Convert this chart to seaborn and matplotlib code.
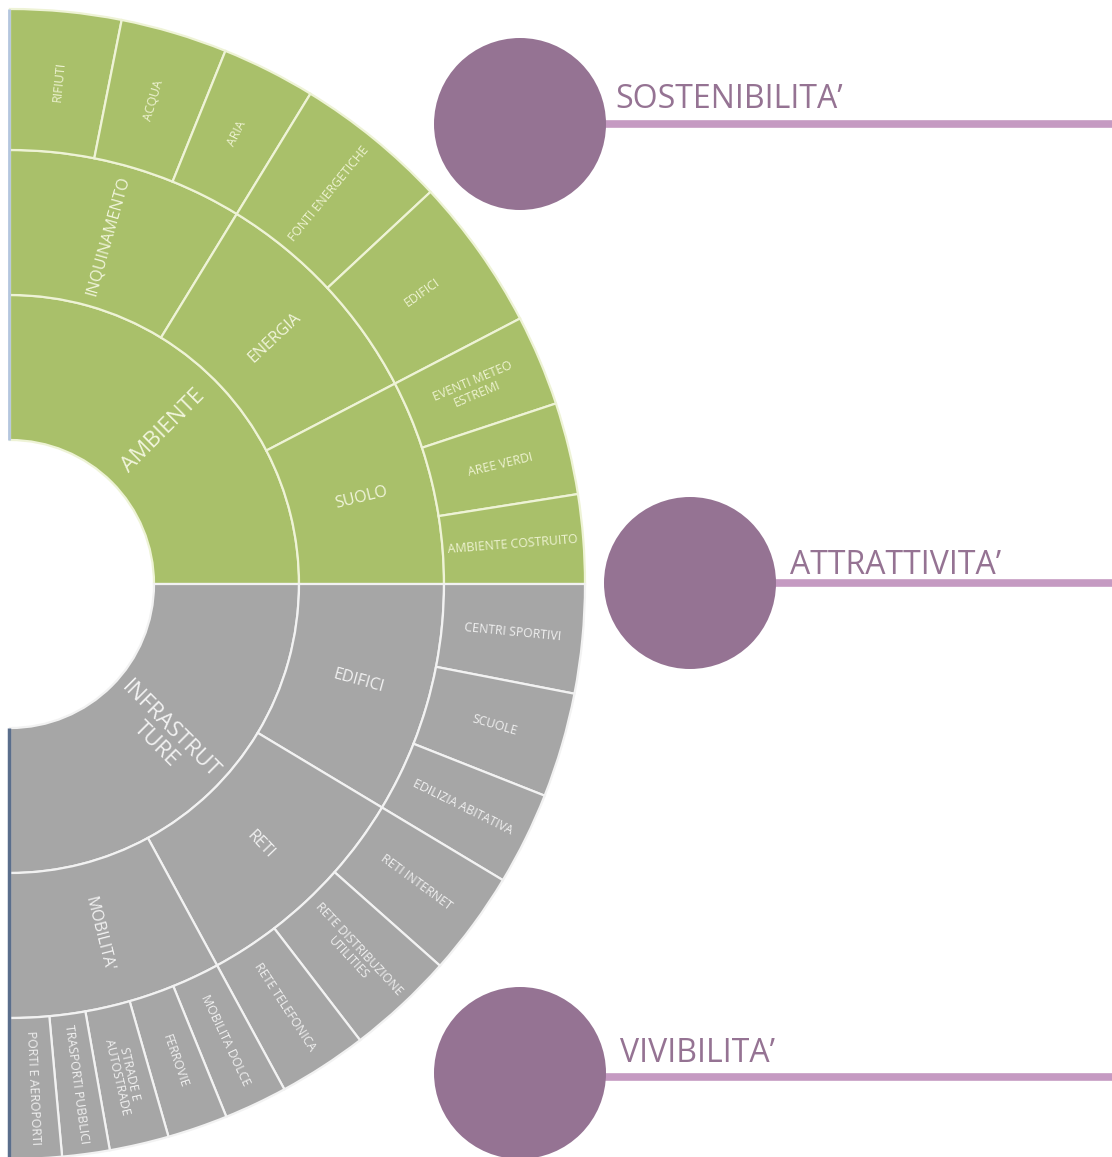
import numpy as np
import pandas as pd
import matplotlib
matplotlib.use("Agg")
import matplotlib.pyplot as plt
from matplotlib.patches import Wedge, Circle
import seaborn as sns

# sunburst data (angular share of each leaf, degrees of a half circle)
top_labels = ["AMBIENTE", "INFRASTRUT\nTURE"]
mid_labels = ["INQUINAMENTO", "ENERGIA", "SUOLO", "EDIFICI", "RETI", "MOBILITA'"]
mid_parent = [0, 0, 0, 1, 1, 1]
leaf_labels = ["RIFIUTI", "ACQUA", "ARIA", "FONTI ENERGETICHE", "EDIFICI",
               "EVENTI METEO\nESTREMI", "AREE VERDI", "AMBIENTE COSTRUITO",
               "CENTRI SPORTIVI", "SCUOLE", "EDILIZIA ABITATIVA",
               "RETI INTERNET", "RETE DISTRIBUZIONE\nUTILITIES", "RETE TELEFONICA",
               "MOBILITA DOLCE", "FERROVIE", "STRADE E\nAUTOSTRADE",
               "TRASPORTI PUBBLICI", "PORTI E AEROPORTI"]
leaf_values = [11.2, 10.8, 9.5, 15.5, 15.5, 9.2, 9.3, 9.0,
               11.0, 10.6, 9.4, 10.6, 10.9, 9.0,
               6.4, 6.1, 6.0, 4.8, 5.2]
leaf_parent = [0, 0, 0, 1, 1, 2, 2, 2, 3, 3, 3, 4, 4, 4, 5, 5, 5, 5, 5]

pillars = ["SOSTENIBILITA\u2019", "ATTRATTIVITA\u2019", "VIVIBILITA\u2019"]

sns.set_theme(style="white")
plt.rcParams["font.family"] = ["Open Sans", "DejaVu Sans"]

green = "#a9c06a"
grey = "#a6a6a6"
purple = "#957393"
lilac = "#c59ac2"
top_colors = [green, grey]
edge_colors = ["#eef3d6", "#f2f2f2"]

df = pd.DataFrame({"leaf": leaf_labels, "value": leaf_values, "mid": leaf_parent})
mid_df = pd.DataFrame({"label": mid_labels, "top": mid_parent,
                       "value": df.groupby("mid")["value"].sum().values})
top_df = pd.DataFrame({"label": top_labels,
                       "value": mid_df.groupby("top")["value"].sum().values})

fig = plt.figure(figsize=(11.12, 11.57), dpi=100)
ax = fig.add_axes([0, 0, 1, 1])
ax.set_xlim(0, 1112)
ax.set_ylim(0, 1157)
ax.set_aspect("equal")
ax.axis("off")

cx, cy = 10, 573
radii = [144, 289, 434, 575]


def draw_ring(values, colors, ecolors, labels, r_in, r_out, fsize, tcolors):
    start = 90.0
    for v, c, ec, lab, tc in zip(values, colors, ecolors, labels, tcolors):
        end = start - v
        ax.add_patch(Wedge((cx, cy), r_out, end, start, width=r_out - r_in,
                           facecolor=c, edgecolor=ec, linewidth=1.6))
        mid = np.deg2rad((start + end) / 2)
        rm = (r_in + r_out) / 2
        ax.text(cx + rm * np.cos(mid), cy + rm * np.sin(mid), lab,
                rotation=np.rad2deg(mid), rotation_mode="anchor",
                ha="center", va="center", ma="center", fontsize=fsize,
                color=tc, linespacing=1.0)
        start = end


tops = top_df["label"].tolist()
draw_ring(top_df["value"], top_colors, edge_colors, tops, radii[0], radii[1], 16,
          ["#f1f5dc", "#f2f2f2"])

mid_colors = [top_colors[t] for t in mid_df["top"]]
mid_edges = [edge_colors[t] for t in mid_df["top"]]
mid_text = ["#f1f5dc" if t == 0 else "#f2f2f2" for t in mid_df["top"]]
draw_ring(mid_df["value"], mid_colors, mid_edges, mid_df["label"], radii[1], radii[2], 11.5,
          mid_text)

leaf_top = [mid_parent[m] for m in df["mid"]]
leaf_colors = [top_colors[t] for t in leaf_top]
leaf_edges = [edge_colors[t] for t in leaf_top]
leaf_text = ["#eef3d2" if t == 0 else "#f0f0f0" for t in leaf_top]
draw_ring(df["value"], leaf_colors, leaf_edges, df["leaf"], radii[2], radii[3], 8.8,
          leaf_text)

# thin edge along the cut side of the half circle
ax.plot([cx - 1, cx - 1], [cy + radii[0], cy + radii[3]], color="#b4c6de", lw=2, solid_capstyle="butt")
ax.plot([cx - 1, cx - 1], [0, cy - radii[0]], color="#5a6e8c", lw=2.5, solid_capstyle="butt")

# pillar markers on the right
circle_pos = [(520, 1033), (690, 574), (520, 84)]
line_y = [1033, 574, 80]
text_pos = [(615, 1049), (790, 583), (620, 95)]
for name, (px, py), ly, (tx, ty) in zip(pillars, circle_pos, line_y, text_pos):
    ax.plot([px, 1112], [ly, ly], color=lilac, lw=5.5, solid_capstyle="butt", zorder=2)
    ax.add_patch(Circle((px, py), 86, facecolor=purple, edgecolor="none", zorder=3))
    ax.text(tx, ty, name, fontsize=23, color=purple, ha="left", va="baseline", zorder=4)

fig.savefig("out.png", dpi=100)
